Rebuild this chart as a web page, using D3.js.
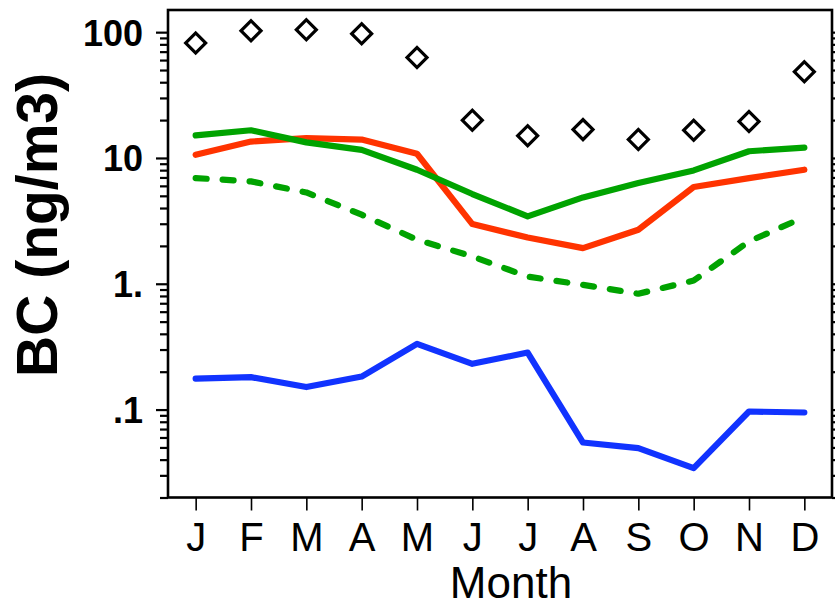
<!DOCTYPE html>
<html><head><meta charset="utf-8">
<script src="https://cdn.jsdelivr.net/npm/d3@7/dist/d3.min.js"></script>
<style>html,body{margin:0;padding:0;background:#fff;}svg{display:block;}</style>
</head><body>
<svg id="chart" width="835" height="603"></svg>
<script>
const months = ["J","F","M","A","M","J","J","A","S","O","N","D"];
const yMajorTicks = [0.1, 1, 10, 100];
const yMajorLabels = [".1", "1.", "10", "100"];
const observed   = [82.0, 102.7, 104.6, 97.2, 63.0, 19.9, 15.0, 16.8, 14.0, 16.6, 19.5, 48.5];
const greenSolid = [15.1, 16.6, 13.3, 11.6, 8.06, 5.17, 3.43, 4.86, 6.32, 7.96, 11.3, 12.1];
const redSolid   = [10.6, 13.5, 14.4, 14.0, 10.8, 2.98, 2.33, 1.92, 2.69, 5.87, 6.92, 8.06];
const greenDash  = [6.92, 6.51, 5.32, 3.54, 2.24, 1.65, 1.14, 0.98, 0.833, 1.06, 2.17, 3.39];
const blueSolid  = [0.176, 0.181, 0.151, 0.183, 0.333, 0.231, 0.284, 0.0547, 0.0494, 0.0342, 0.0965, 0.0948];

const L = 168, R = 832, T = 10, B = 497.5;
const svg = d3.select("#chart");
const font = "'Liberation Sans', Arial, Helvetica, sans-serif";

const x = d3.scaleLinear().domain([0.5, 12.5]).range([L, R]);
const y = d3.scaleLog().domain([0.02, 150]).range([B, T]);
const monthIdx = months.map((m, i) => i + 1);

const allTicks = y.ticks().filter(v => v >= 0.02 && v <= 150);
const isMajor = v => Math.abs(Math.log10(v) - Math.round(Math.log10(v))) < 1e-9;
const minorTicks = allTicks.filter(v => !isMajor(v));

// Left axis minor
const gLmin = svg.append("g").attr("transform", `translate(${L},0)`)
  .call(d3.axisLeft(y).tickValues(minorTicks).tickSize(8).tickFormat(""));
// Left axis major
const gLmaj = svg.append("g").attr("transform", `translate(${L},0)`)
  .call(d3.axisLeft(y).tickValues(yMajorTicks).tickSize(12).tickPadding(13)
    .tickFormat((d, i) => yMajorLabels[i]));
// Right axis
const gRmin = svg.append("g").attr("transform", `translate(${R},0)`)
  .call(d3.axisRight(y).tickValues(minorTicks).tickSize(8).tickFormat(""));
const gRmaj = svg.append("g").attr("transform", `translate(${R},0)`)
  .call(d3.axisRight(y).tickValues(yMajorTicks).tickSize(12).tickFormat(""));
// Bottom axis
const gB = svg.append("g").attr("transform", `translate(0,${B})`)
  .call(d3.axisBottom(x).tickValues(monthIdx).tickSize(13).tickPadding(12)
    .tickFormat(d => months[d - 1]));

[gLmin, gLmaj, gRmin, gRmaj, gB].forEach(g => {
  g.select(".domain").remove();
  g.selectAll(".tick line").attr("stroke", "#000").attr("stroke-width", 2.2);
});
gB.selectAll(".tick line").attr("stroke-width", 1.6);
gLmaj.selectAll(".tick text").attr("font-family", font).attr("font-weight", "bold")
  .attr("font-size", 36).attr("fill", "#000").attr("dy", "0.36em");
gB.selectAll(".tick text").attr("font-family", font).attr("font-size", 40)
  .attr("fill", "#000").attr("dy", "0.72em");

// Frame
svg.append("rect").attr("x", L).attr("y", T).attr("width", R - L).attr("height", B - T)
  .attr("fill", "none").attr("stroke", "#000").attr("stroke-width", 2.6);

const line = d3.line().x((d, i) => x(i + 1)).y(d => y(d));
const series = [
  {data: greenDash, color: "#00a300", dash: "11,16"},
  {data: blueSolid, color: "#1133ff", dash: null},
  {data: redSolid, color: "#ff3300", dash: null},
  {data: greenSolid, color: "#00a300", dash: null}
];
series.forEach(s => {
  svg.append("path").datum(s.data).attr("d", line)
    .attr("fill", "none").attr("stroke", s.color).attr("stroke-width", 6.2)
    .attr("stroke-linecap", "round").attr("stroke-linejoin", "round")
    .attr("stroke-dasharray", s.dash);
});

// Observed diamonds
const sym = d3.symbol().type(d3.symbolSquare).size(200);
svg.append("g").selectAll("path").data(observed).join("path")
  .attr("d", sym)
  .attr("transform", (d, i) => `translate(${x(i + 1)},${y(d)}) rotate(45)`)
  .attr("fill", "none").attr("stroke", "#000").attr("stroke-width", 3.2);

// Axis titles
svg.append("text").attr("x", 511).attr("y", 598).attr("text-anchor", "middle")
  .attr("font-family", font).attr("font-size", 44).attr("fill", "#000").text("Month");
svg.append("text").attr("transform", "translate(57,225) rotate(-90)")
  .attr("text-anchor", "middle").attr("font-family", font).attr("font-weight", "bold")
  .attr("font-size", 57).attr("fill", "#000").text("BC (ng/m3)");
</script>
</body></html>
